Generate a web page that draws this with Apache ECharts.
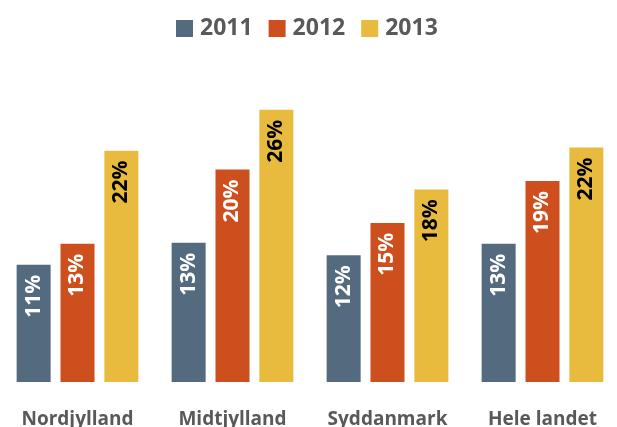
<html lang="da">
<head>
    <meta charset="UTF-8">
    <title>Andel 2011-2013</title>
    <style>
        html, body {
            margin: 0;
            width: 100%;
            height: 100%;
            background: #ffffff;
            overflow: hidden;
        }

        #container {
            width: 617px;
            height: 427px;
        }
    </style>
</head>
<body>
<div id="container"></div>
</body>
<script type="text/javascript" src="https://cdn.jsdelivr.net/npm/echarts@6/dist/echarts.min.js"></script>
<script>
    // regioner og aar
    var regions = ['Nordjylland', 'Midtjylland', 'Syddanmark', 'Hele landet'];
    var years = ['2011', '2012', '2013'];
    // andele i procent, aflaest fra figuren
    var v2011 = [11.2, 13.3, 12.1, 13.2];
    var v2012 = [13.2, 20.3, 15.2, 19.2];
    var v2013 = [22.1, 26.0, 18.4, 22.4];
    var colors = ['#536a7f', '#cd4f1d', '#e8bb3f'];
    var labelColors = ['#ffffff', '#ffffff', '#000000'];

    var font = '"Open Sans", sans-serif';

    function makeSeries(name, data, i) {
        return {
            name: name,
            type: 'bar',
            barWidth: 34,
            barGap: '29%',
            itemStyle: {color: colors[i]},
            label: {
                show: true,
                position: 'insideTop',
                distance: 10,
                rotate: 90,
                align: 'right',
                verticalAlign: 'middle',
                color: labelColors[i],
                fontFamily: font,
                fontWeight: 'bold',
                fontSize: 21,
                formatter: function (p) {
                    return Math.round(p.value) + '%';
                }
            },
            data: data
        };
    }

    var myCharts = echarts.init(document.getElementById('container'));
    var option = {
        animation: false,
        legend: {
            top: 17,
            left: 176,
            padding: 0,
            itemWidth: 17,
            itemHeight: 17,
            itemGap: 16,
            icon: 'rect',
            textStyle: {
                color: '#595959',
                fontFamily: font,
                fontWeight: 'bold',
                fontSize: 23,
                padding: [0, 0, 0, 2]
            },
            data: years
        },
        grid: {
            left: 0,
            top: 68,
            width: 620,
            bottom: 45,
            outerBoundsMode: 'none'
        },
        xAxis: {
            type: 'category',
            data: regions,
            axisLine: {show: false},
            axisTick: {show: false},
            axisLabel: {
                interval: 0,
                margin: 28,
                color: '#595959',
                fontFamily: font,
                fontWeight: 'bold',
                fontSize: 19
            }
        },
        yAxis: {
            type: 'value',
            min: 0,
            max: 30,
            show: false,
            splitLine: {show: false}
        },
        series: [
            makeSeries(years[0], v2011, 0),
            makeSeries(years[1], v2012, 1),
            makeSeries(years[2], v2013, 2)
        ]
    };

    myCharts.setOption(option);
</script>
</html>
